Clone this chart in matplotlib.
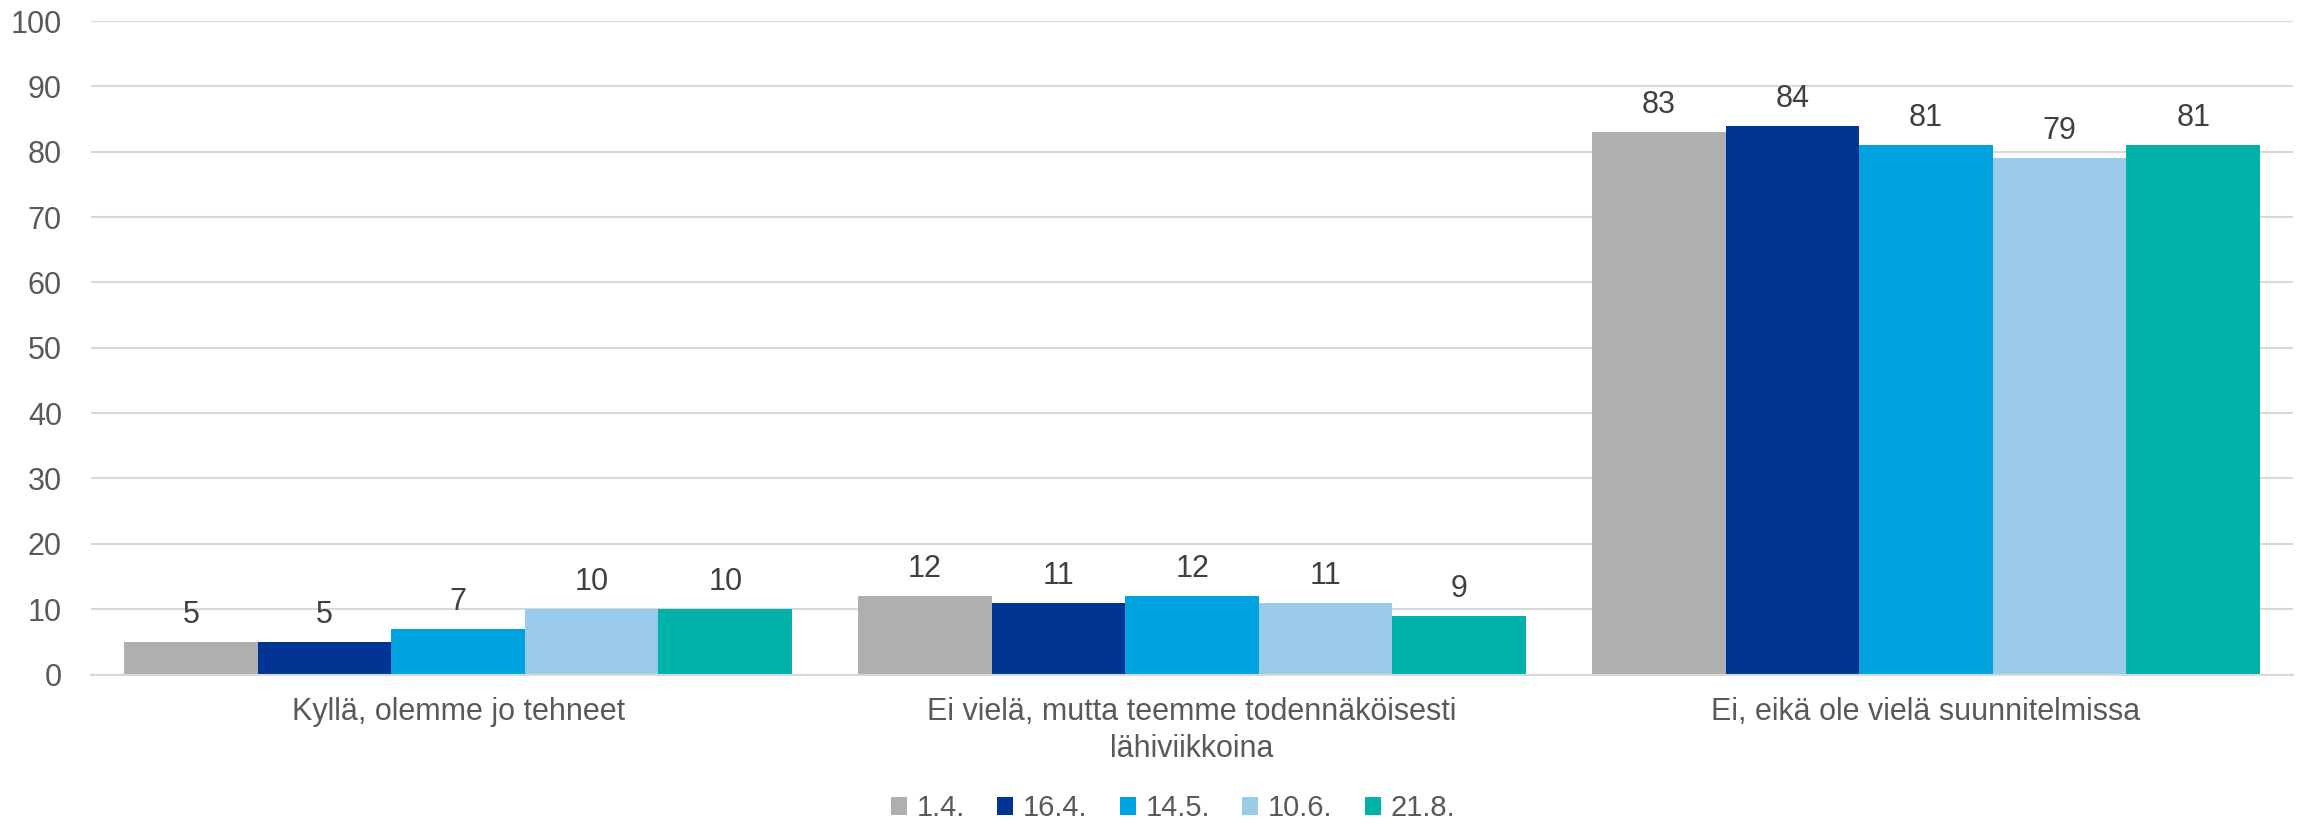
import matplotlib.pyplot as plt
import numpy as np

plt.rcParams['font.family'] = ['Liberation Sans', 'DejaVu Sans']

kategoriat = ['Kyllä, olemme jo tehneet',
              'Ei vielä, mutta teemme todennäköisesti\nlähiviikkoina',
              'Ei, eikä ole vielä suunnitelmissa']
paivat = ['1.4.', '16.4.', '14.5.', '10.6.', '21.8.']
arvot = [
    [5, 12, 83],
    [5, 11, 84],
    [7, 12, 81],
    [10, 11, 79],
    [10, 9, 81],
]
varit = ['#AFAFAF', '#003594', '#00A3E0', '#9BCBEB', '#00B2A9']

fig = plt.figure(figsize=(23, 8.23), dpi=100)
ax = fig.add_axes([0.0396, 0.1804, 0.9574, 0.794])

x = np.arange(len(kategoriat))
leveys = 0.182
for i, (paiva, sarja) in enumerate(zip(paivat, arvot)):
    pos = x + (i - 2) * leveys
    palkit = ax.bar(pos, sarja, width=leveys, color=varit[i], label=paiva)
    ax.bar_label(palkit, padding=8.5, fontsize=22, color='#404040')

ax.set_xlim(-0.5, 2.5)
ax.set_ylim(0, 100)
ax.set_yticks(range(0, 101, 10))
ax.yaxis.grid(True, color='#D9D9D9', linewidth=1.5)
ax.set_axisbelow(True)
for s in ['top', 'right', 'left']:
    ax.spines[s].set_visible(False)
ax.spines['bottom'].set_color('#D9D9D9')
ax.spines['bottom'].set_linewidth(1.5)
ax.tick_params(axis='both', length=0, labelcolor='#595959')
ax.tick_params(axis='y', pad=21, labelsize=22)
ax.tick_params(axis='x', pad=16, labelsize=22)
ax.set_xticks(x)
ax.set_xticklabels(kategoriat, linespacing=1.3)

fig.legend(loc='center', bbox_to_anchor=(0.51, 0.018), ncol=5, frameon=False,
           fontsize=21, labelcolor='#595959',
           handlelength=0.55, handleheight=0.55, handletextpad=0.34,
           columnspacing=1.1, borderpad=0)

fig.savefig('out.png', dpi=100)
